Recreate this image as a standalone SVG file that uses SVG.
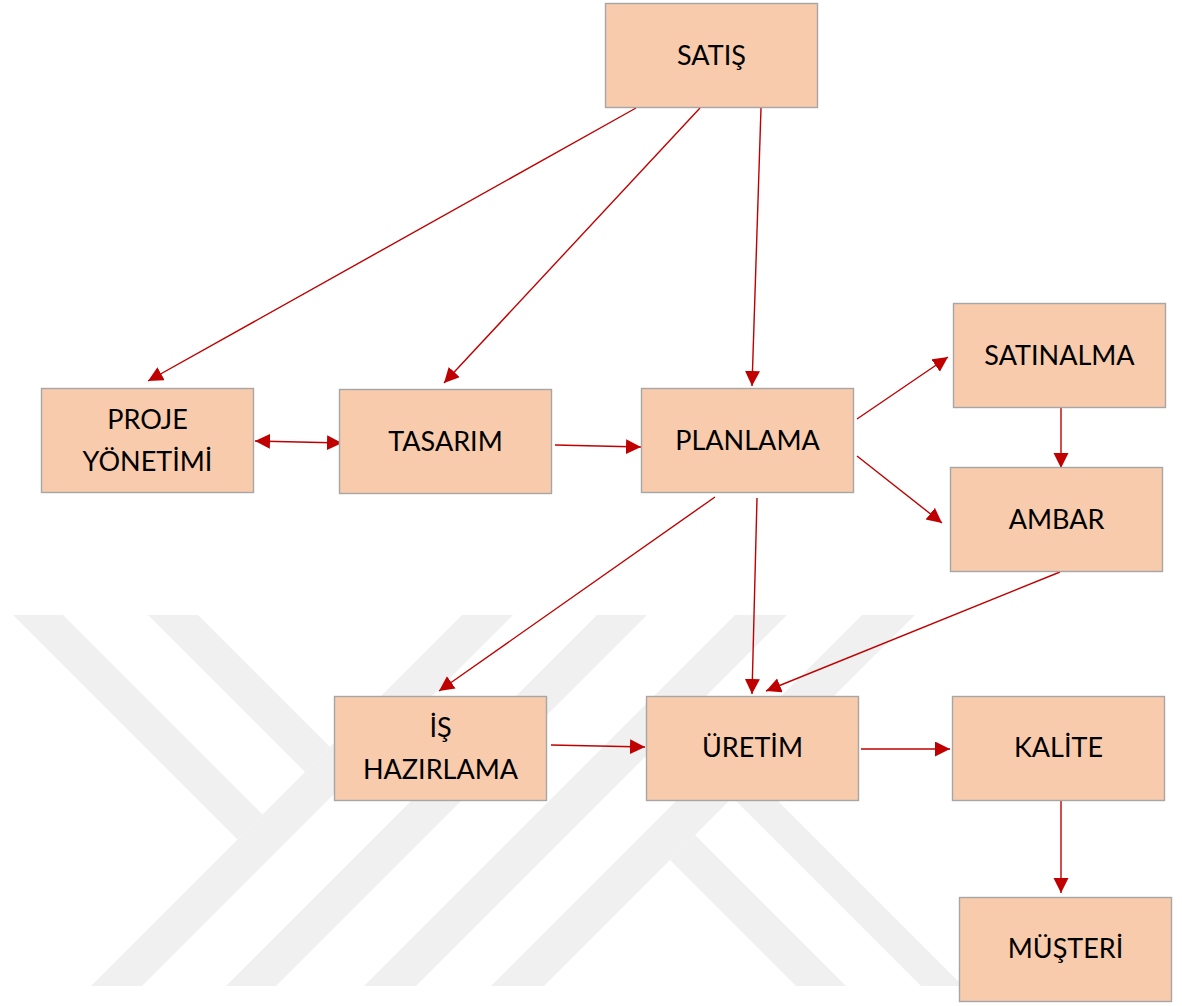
<svg xmlns="http://www.w3.org/2000/svg" width="1182" height="1006" viewBox="0 0 1182 1006">
  <style>
    .wm { fill: #f0f0f0; }
    .box { fill: #f8cbad; stroke: #a6a6a6; stroke-width: 1.4; }
    .lbl { font-family: Lato, "Open Sans", "Liberation Sans", sans-serif; font-size: 27px; fill: #000; text-anchor: middle; }
    .edge { fill: none; stroke: #c00000; stroke-width: 1.4; }
  </style>
  <defs>
    <marker id="arrow" markerUnits="userSpaceOnUse" markerWidth="16" markerHeight="16" refX="15" refY="7.5" orient="auto-start-reverse" viewBox="0 0 16 16">
      <path d="M0,0 L15,7.5 L0,15 Z" fill="#c00000"/>
    </marker>
  </defs>

  <rect width="1182" height="1006" fill="#ffffff"/>

  <!-- background emblem made of diagonal bands -->
  <g id="emblem">
    <polygon class="wm" points="91,986 142,986 513,615 462,615"/>
    <polygon class="wm" points="226,986 276,986 647,615 597,615"/>
    <polygon class="wm" points="364,986 416,986 787,615 735,615"/>
    <polygon class="wm" points="491,986 544,986 915,615 862,615"/>
    <polygon class="wm" points="13,615 63,615 262.5,814.5 237.5,839.5"/>
    <polygon class="wm" points="148,615 198,615 330,747 305,772"/>
    <polygon class="wm" points="695,835 846,986 796,986 670,860"/>
    <polygon class="wm" points="753.5,776.5 963,986 921,986 732.5,797.5"/>
  </g>

  <!-- connectors -->
  <g id="connectors">
    <line class="edge" x1="636" y1="108" x2="148" y2="381" marker-end="url(#arrow)"/>
    <line class="edge" x1="700" y1="108" x2="444" y2="383" marker-end="url(#arrow)"/>
    <line class="edge" x1="761" y1="108" x2="752" y2="386" marker-end="url(#arrow)"/>
    <line class="edge" x1="255" y1="441" x2="342" y2="443" marker-start="url(#arrow)" marker-end="url(#arrow)"/>
    <line class="edge" x1="555" y1="445" x2="641" y2="447" marker-end="url(#arrow)"/>
    <line class="edge" x1="857" y1="419" x2="948" y2="357" marker-end="url(#arrow)"/>
    <line class="edge" x1="857" y1="456" x2="942" y2="523" marker-end="url(#arrow)"/>
    <line class="edge" x1="1061" y1="408" x2="1061" y2="468" marker-end="url(#arrow)"/>
    <line class="edge" x1="715" y1="497" x2="439" y2="691" marker-end="url(#arrow)"/>
    <line class="edge" x1="757" y1="498" x2="752" y2="694" marker-end="url(#arrow)"/>
    <line class="edge" x1="1060" y1="572" x2="766" y2="691" marker-end="url(#arrow)"/>
    <line class="edge" x1="551" y1="745" x2="645" y2="747" marker-end="url(#arrow)"/>
    <line class="edge" x1="861" y1="749" x2="950" y2="749" marker-end="url(#arrow)"/>
    <line class="edge" x1="1061" y1="801" x2="1061" y2="893" marker-end="url(#arrow)"/>
  </g>

  <!-- nodes -->
  <g id="satis">
    <rect class="box" x="605.5" y="3.5" width="212" height="104"/>
    <text class="lbl" x="711.5" y="65">SATIŞ</text>
  </g>
  <g id="proje-yonetimi">
    <rect class="box" x="41.5" y="388.5" width="212" height="104"/>
    <text class="lbl" x="147.5" y="428.5">PROJE</text>
    <text class="lbl" x="147.5" y="470.5">YÖNETİMİ</text>
  </g>
  <g id="tasarim">
    <rect class="box" x="339.5" y="389.5" width="212" height="104"/>
    <text class="lbl" x="445.5" y="451">TASARIM</text>
  </g>
  <g id="planlama">
    <rect class="box" x="641.5" y="388.5" width="212" height="104"/>
    <text class="lbl" x="747.5" y="450">PLANLAMA</text>
  </g>
  <g id="satinalma">
    <rect class="box" x="953.5" y="303.5" width="212" height="104"/>
    <text class="lbl" x="1059.5" y="365">SATINALMA</text>
  </g>
  <g id="ambar">
    <rect class="box" x="950.5" y="467.5" width="212" height="104"/>
    <text class="lbl" x="1056.5" y="529">AMBAR</text>
  </g>
  <g id="is-hazirlama">
    <rect class="box" x="334.5" y="696.5" width="212" height="104"/>
    <text class="lbl" x="440.5" y="737">İŞ</text>
    <text class="lbl" x="440.5" y="779">HAZIRLAMA</text>
  </g>
  <g id="uretim">
    <rect class="box" x="646.5" y="696.5" width="212" height="104"/>
    <text class="lbl" x="752.5" y="757">ÜRETİM</text>
  </g>
  <g id="kalite">
    <rect class="box" x="952.5" y="696.5" width="212" height="104"/>
    <text class="lbl" x="1058.5" y="757">KALİTE</text>
  </g>
  <g id="musteri">
    <rect class="box" x="959.5" y="897.5" width="212" height="104"/>
    <text class="lbl" x="1065.5" y="958">MÜŞTERİ</text>
  </g>
</svg>
